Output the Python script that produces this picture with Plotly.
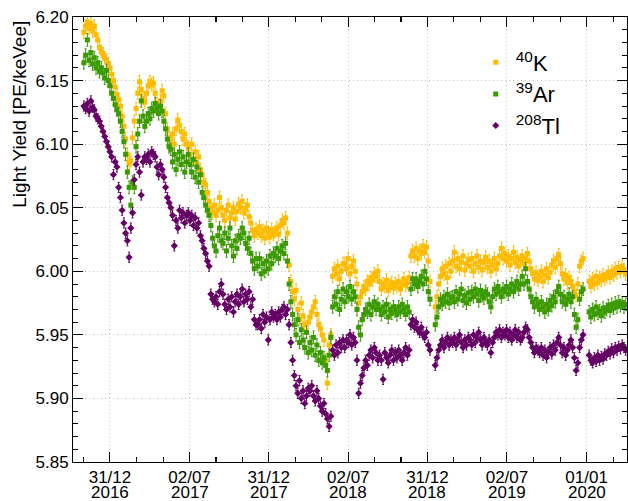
import pandas as pd
import plotly.graph_objects as go

# ---------------- data ----------------
# three measurement periods, one point every 4 days
SEG_STARTS = ["2016-11-01", "2019-01-18", "2020-01-07"]
STEP = "4D"

K40_A = [
    6.188, 6.193, 6.196, 6.191, 6.195, 6.189, 6.193, 6.186, 6.182, 6.176,
    6.173, 6.171, 6.168, 6.166, 6.163, 6.160, 6.155, 6.150, 6.145, 6.139,
    6.135, 6.130, 6.122, 6.114, 6.104, 6.092, 6.085, 6.087, 6.105, 6.118,
    6.128, 6.140, 6.149, 6.143, 6.136, 6.133, 6.140, 6.146, 6.149, 6.147,
    6.148, 6.140, 6.132, 6.128, 6.134, 6.142, 6.138, 6.124, 6.112, 6.105,
    6.104, 6.108, 6.100, 6.112, 6.119, 6.115, 6.110, 6.104, 6.108, 6.100,
    6.098, 6.092, 6.100, 6.088, 6.094, 6.084, 6.090, 6.080, 6.076, 6.070,
    6.068, 6.062, 6.055, 6.050, 6.046, 6.052, 6.044, 6.048, 6.058, 6.050,
    6.044, 6.040, 6.048, 6.052, 6.042, 6.046, 6.050, 6.041, 6.047, 6.053,
    6.050, 6.055, 6.046, 6.049, 6.052, 6.043, 6.038, 6.032, 6.028, 6.033,
    6.030, 6.035, 6.028, 6.032, 6.026, 6.034, 6.030, 6.027, 6.033, 6.029,
    6.031, 6.034, 6.029, 6.036, 6.040, 6.038, 6.042, 6.030, 6.005, 5.992,
    5.984, 5.978, 5.985, 5.970, 5.962, 5.975, 5.965, 5.958, 5.952, 5.960,
    5.964, 5.968, 5.972, 5.976, 5.966, 5.958, 5.955, 5.950, 5.946, 5.930,
    5.912, 5.942, 5.950, 5.996, 6.002, 5.998, 6.004, 5.994, 6.000, 6.006,
    6.006, 6.002, 6.010, 5.998, 6.004, 6.008, 6.000, 5.990, 5.975, 5.980,
    5.984, 5.988, 5.986, 5.992, 5.990, 5.995, 5.993, 5.998, 5.996, 6.000,
    5.992, 5.986, 5.990, 5.988, 5.993, 5.985, 5.989, 5.991, 5.987, 5.990,
    5.988, 5.992, 5.986, 5.990, 5.994, 5.989, 5.991, 5.995, 6.012, 6.016,
    6.012, 6.018, 6.010, 6.016, 6.014, 6.020, 6.015, 6.019, 6.008, 5.992,
]
K40_B = [
    5.972, 5.980, 5.990, 5.996, 6.002, 5.998, 6.004, 5.995, 6.006, 6.000,
    6.008, 6.015, 6.004, 6.010, 6.002, 6.007, 6.012, 6.001, 6.006, 6.009,
    6.004, 6.010, 6.000, 6.006, 6.012, 6.003, 6.008, 6.001, 6.007, 6.011,
    6.003, 6.008, 6.000, 6.005, 6.010, 6.002, 6.006, 6.012, 6.018, 6.010,
    6.014, 6.008, 6.012, 6.005, 6.010, 6.015, 6.007, 6.011, 6.004, 6.009,
    6.012, 6.006, 6.010, 6.014, 6.008, 6.002, 5.998, 5.994, 5.999, 5.993,
    5.996, 6.000, 5.992, 5.997, 6.002, 5.995, 5.999, 6.005, 6.008, 6.003,
    6.010, 6.013, 6.006, 5.998, 5.994, 5.997, 5.991, 5.995, 5.992, 5.988,
    5.984, 5.981, 5.990, 6.004, 6.008, 6.010,
]
K40_C = [
    5.992, 5.988, 5.994, 5.990, 5.996, 5.991, 5.995, 5.993, 5.997, 5.994,
    5.996, 5.999, 5.995, 6.000, 5.997, 6.002, 5.999, 6.003, 6.000, 6.004,
    6.001, 5.998,
]

AR39_A = [
    6.164, 6.170, 6.182, 6.166, 6.172, 6.163, 6.168, 6.160, 6.164, 6.157,
    6.160, 6.156, 6.152, 6.158, 6.150, 6.146, 6.140, 6.136, 6.131, 6.127,
    6.124, 6.118, 6.110, 6.102, 6.092, 6.078, 6.066, 6.052, 6.070, 6.066,
    6.098, 6.108, 6.118, 6.134, 6.122, 6.114, 6.118, 6.124, 6.120, 6.128,
    6.126, 6.132, 6.128, 6.124, 6.130, 6.126, 6.118, 6.112, 6.104, 6.098,
    6.096, 6.086, 6.092, 6.080, 6.088, 6.094, 6.084, 6.090, 6.078, 6.086,
    6.092, 6.084, 6.078, 6.088, 6.074, 6.082, 6.070, 6.076, 6.062, 6.058,
    6.052, 6.048, 6.044, 6.036, 6.026, 6.020, 6.016, 6.028, 6.034, 6.024,
    6.022, 6.030, 6.016, 6.026, 6.034, 6.020, 6.012, 6.024, 6.018, 6.028,
    6.026, 6.034, 6.030, 6.022, 6.018, 6.026, 6.014, 6.008, 6.002, 6.010,
    6.004, 6.010, 5.998, 6.006, 6.000, 6.008, 6.002, 6.012, 6.006, 6.014,
    6.012, 6.018, 6.010, 6.016, 6.020, 6.014, 6.022, 6.008, 5.990, 5.976,
    5.966, 5.958, 5.950, 5.962, 5.944, 5.954, 5.946, 5.940, 5.952, 5.936,
    5.944, 5.938, 5.948, 5.934, 5.942, 5.930, 5.936, 5.928, 5.932, 5.926,
    5.922, 5.934, 5.948, 5.972, 5.980, 5.974, 5.984, 5.970, 5.978, 5.986,
    5.976, 5.984, 5.980, 5.988, 5.978, 5.984, 5.980, 5.970, 5.956, 5.950,
    5.962, 5.966, 5.970, 5.968, 5.974, 5.966, 5.972, 5.976, 5.970, 5.974,
    5.970, 5.966, 5.972, 5.968, 5.974, 5.964, 5.970, 5.967, 5.972, 5.969,
    5.966, 5.972, 5.968, 5.974, 5.970, 5.966, 5.972, 5.968, 5.986, 5.994,
    5.990, 5.994, 5.988, 5.992, 5.996, 5.990, 6.000, 5.994, 5.984, 5.978,
]
AR39_B = [
    5.958, 5.964, 5.972, 5.978, 5.974, 5.980, 5.976, 5.982, 5.975, 5.979,
    5.980, 5.976, 5.984, 5.978, 5.982, 5.986, 5.977, 5.981, 5.975, 5.983,
    5.978, 5.984, 5.980, 5.986, 5.982, 5.977, 5.985, 5.981, 5.979, 5.984,
    5.982, 5.976, 5.972, 5.980, 5.986, 5.982, 5.988, 5.984, 5.980, 5.986,
    5.984, 5.988, 5.982, 5.986, 5.990, 5.984, 5.988, 5.992, 5.986, 5.990,
    5.996, 5.990, 6.002, 5.992, 5.986, 5.980, 5.976, 5.972, 5.978, 5.974,
    5.970, 5.976, 5.972, 5.968, 5.974, 5.970, 5.977, 5.973, 5.980, 5.976,
    5.984, 5.988, 5.982, 5.976, 5.980, 5.974, 5.978, 5.982, 5.976, 5.980,
    5.966, 5.956, 5.962, 5.978, 5.984, 5.986,
]
AR39_C = [
    5.968, 5.964, 5.970, 5.966, 5.972, 5.967, 5.969, 5.965, 5.971, 5.968,
    5.970, 5.973, 5.969, 5.974, 5.971, 5.975, 5.972, 5.976, 5.973, 5.975,
    5.972, 5.974,
]

TL208_A = [
    6.130, 6.128, 6.132, 6.126, 6.134, 6.129, 6.127, 6.122, 6.120, 6.118,
    6.114, 6.110, 6.106, 6.102, 6.098, 6.094, 6.090, 6.076, 6.086, 6.082,
    6.066, 6.058, 6.048, 6.038, 6.030, 6.024, 6.011, 6.034, 6.046, 6.072,
    6.084, 6.090, 6.078, 6.060, 6.086, 6.090, 6.088, 6.092, 6.086, 6.094,
    6.092, 6.090, 6.082, 6.076, 6.084, 6.080, 6.074, 6.066, 6.058, 6.054,
    6.050, 6.044, 6.020, 6.040, 6.034, 6.048, 6.042, 6.046, 6.038, 6.044,
    6.046, 6.040, 6.044, 6.036, 6.042, 6.034, 6.038, 6.028, 6.024, 6.018,
    6.014, 6.008, 6.004, 5.982, 5.978, 5.976, 5.980, 5.974, 5.984, 5.990,
    5.982, 5.974, 5.970, 5.978, 5.972, 5.980, 5.968, 5.976, 5.982, 5.974,
    5.980, 5.986, 5.976, 5.982, 5.978, 5.984, 5.972, 5.978, 5.962, 5.958,
    5.958, 5.962, 5.955, 5.966, 5.960, 5.964, 5.946, 5.962, 5.968, 5.964,
    5.966, 5.962, 5.968, 5.964, 5.970, 5.972, 5.966, 5.970, 5.958, 5.944,
    5.930, 5.918, 5.910, 5.904, 5.914, 5.900, 5.906, 5.896, 5.902, 5.908,
    5.906, 5.910, 5.902, 5.898, 5.906, 5.900, 5.894, 5.890, 5.896, 5.888,
    5.884, 5.878, 5.886, 5.938, 5.934, 5.942, 5.936, 5.944, 5.940, 5.946,
    5.940, 5.946, 5.944, 5.950, 5.942, 5.948, 5.944, 5.930, 5.904, 5.912,
    5.918, 5.924, 5.930, 5.926, 5.934, 5.938, 5.932, 5.940, 5.936, 5.930,
    5.934, 5.930, 5.915, 5.936, 5.932, 5.928, 5.934, 5.938, 5.930, 5.936,
    5.932, 5.938, 5.934, 5.930, 5.936, 5.940, 5.934, 5.938, 5.958, 5.962,
    5.956, 5.960, 5.954, 5.952, 5.956, 5.950, 5.948, 5.952, 5.942, 5.938,
]
TL208_B = [
    5.926, 5.932, 5.938, 5.942, 5.946, 5.940, 5.944, 5.948, 5.942, 5.946,
    5.944, 5.948, 5.942, 5.946, 5.950, 5.944, 5.940, 5.946, 5.942, 5.948,
    5.946, 5.942, 5.950, 5.944, 5.948, 5.952, 5.946, 5.942, 5.948, 5.944,
    5.942, 5.946, 5.936, 5.944, 5.948, 5.952, 5.950, 5.954, 5.948, 5.952,
    5.950, 5.954, 5.948, 5.952, 5.946, 5.950, 5.954, 5.948, 5.952, 5.946,
    5.948, 5.952, 5.956, 5.954, 5.948, 5.944, 5.940, 5.936, 5.940, 5.938,
    5.936, 5.940, 5.934, 5.938, 5.932, 5.936, 5.940, 5.935, 5.942, 5.938,
    5.944, 5.948, 5.942, 5.936, 5.940, 5.934, 5.938, 5.942, 5.946, 5.940,
    5.932, 5.922, 5.928, 5.940, 5.946, 5.950,
]
TL208_C = [
    5.934, 5.930, 5.928, 5.932, 5.929, 5.934, 5.930, 5.933, 5.931, 5.935,
    5.934, 5.937, 5.935, 5.939, 5.936, 5.940, 5.938, 5.941, 5.939, 5.942,
    5.940, 5.938,
]

K40_ERR = 0.005
AR39_ERR = 0.005
TL208_ERR = 0.004

SERIES_NAMES = ["<sup>40</sup>K", "<sup>39</sup>Ar", "<sup>208</sup>Tl"]

X_TICK_DATES = ["2016-12-31", "2017-07-02", "2017-12-31", "2018-07-02",
                "2018-12-31", "2019-07-02", "2020-01-01"]
X_TICK_DAYMONTH = ["31/12", "02/07", "31/12", "02/07", "31/12", "02/07", "01/01"]
X_TICK_YEAR = ["2016", "2017", "2017", "2018", "2018", "2019", "2020"]

Y_TITLE = "Light Yield [PE/keVee]"

# ---------------- build ----------------
def concat(segments):
    xs, ys = [], []
    for start, vals in zip(SEG_STARTS, segments):
        d = pd.date_range(start, periods=len(vals), freq=STEP)
        xs.extend(list(d))
        ys.extend(vals)
    return xs, ys

FONT = "Liberation Sans, Arial, Helvetica, sans-serif"
COLORS = ["#ffbb00", "#3a9a00", "#660066"]
SYMBOLS = ["square", "square", "diamond"]
SIZES = [5, 5, 5.5]
GRID_DASH = "1px,3px"

fig = go.Figure()
for name, segs, err, col, sym, sz in [
    (SERIES_NAMES[0], [K40_A, K40_B, K40_C], K40_ERR, COLORS[0], SYMBOLS[0], SIZES[0]),
    (SERIES_NAMES[1], [AR39_A, AR39_B, AR39_C], AR39_ERR, COLORS[1], SYMBOLS[1], SIZES[1]),
    (SERIES_NAMES[2], [TL208_A, TL208_B, TL208_C], TL208_ERR, COLORS[2], SYMBOLS[2], SIZES[2]),
]:
    x, y = concat(segs)
    fig.add_trace(go.Scatter(
        x=x, y=y, mode="markers", name=name,
        marker=dict(symbol=sym, size=sz, color=col, line=dict(width=0)),
        error_y=dict(type="constant", value=err, color=col, thickness=1, width=1),
    ))

# minor ticks: two between each pair of majors (~2 months apart)
major = pd.to_datetime(X_TICK_DATES)
minor = []
for d in major:
    minor += [d - pd.Timedelta(days=122), d - pd.Timedelta(days=61),
              d + pd.Timedelta(days=61), d + pd.Timedelta(days=122)]
minor = sorted(set(minor) - set(major))

x_start, x_end = "2016-10-07", "2020-04-03"

fig.update_layout(
    width=628, height=501,
    margin=dict(l=73, r=1, t=17, b=39, autoexpand=False),
    paper_bgcolor="white", plot_bgcolor="white",
    font=dict(family=FONT, size=17, color="black"),
    showlegend=True,
    legend=dict(x=0.727, y=0.945, xanchor="left", yanchor="top",
                bgcolor="rgba(0,0,0,0)", borderwidth=0,
                font=dict(family=FONT, size=22, color="black"),
                itemsizing="trace"),
    xaxis=dict(
        type="date", range=[x_start, x_end], automargin=False,
        tickmode="array", tickvals=list(major), ticktext=X_TICK_DAYMONTH,
        ticks="inside", ticklen=10, tickwidth=1, tickcolor="black",
        showline=True, linecolor="black", linewidth=1, mirror="allticks",
        showgrid=True, gridcolor="#c4c4c4", griddash=GRID_DASH, gridwidth=1,
        zeroline=False,
        tickfont=dict(family=FONT, size=17, color="black"),
        minor=dict(tickmode="array", tickvals=minor, ticks="inside",
                   ticklen=5, tickcolor="black", showgrid=False),
    ),
    yaxis=dict(
        range=[5.85, 6.20], tickmode="linear", tick0=5.85, dtick=0.05,
        tickformat=".2f", automargin=False,
        ticks="inside", ticklen=10, tickwidth=1, tickcolor="black",
        showline=True, linecolor="black", linewidth=1, mirror="allticks",
        showgrid=True, gridcolor="#c4c4c4", griddash=GRID_DASH, gridwidth=1,
        zeroline=False,
        tickfont=dict(family=FONT, size=17, color="black"),
        minor=dict(dtick=0.01, ticks="inside", ticklen=5, tickcolor="black",
                   showgrid=False),
    ),
)

# second line of the date labels (years)
for d, yr in zip(major, X_TICK_YEAR):
    fig.add_annotation(x=d, y=-0.068, xref="x", yref="paper", text=yr,
                       showarrow=False, xanchor="center", yanchor="middle",
                       font=dict(family=FONT, size=17, color="black"))

# y-axis title, aligned to the top like ROOT
fig.add_annotation(x=-0.098, y=0.782, xref="paper", yref="paper",
                   text=Y_TITLE, textangle=-90, showarrow=False,
                   xanchor="center", yanchor="middle",
                   font=dict(family=FONT, size=19, color="black"))

fig.write_html("out.html",
               config={"displayModeBar": False},
               post_script="document.body.style.margin='0';"
                           "document.body.style.padding='0';"
                           "document.body.style.overflow='hidden';")
